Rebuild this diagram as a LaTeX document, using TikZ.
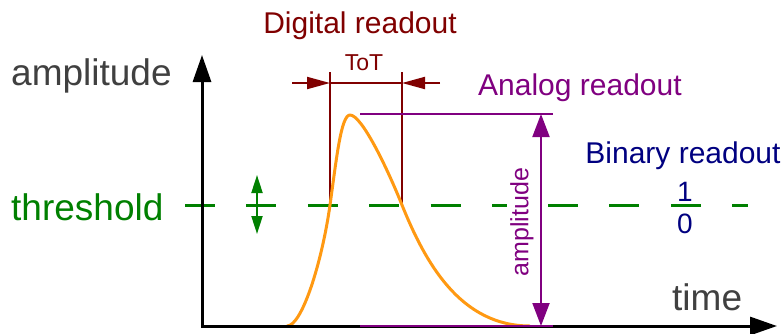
\documentclass[tikz,border=0pt]{standalone}
\usepackage{fontspec}
\setmainfont{Liberation Sans}
\usetikzlibrary{arrows.meta}
\definecolor{dred}{HTML}{800000}
\definecolor{purp}{HTML}{800080}
\definecolor{navy}{HTML}{000080}
\definecolor{grn}{HTML}{008000}
\definecolor{orng}{HTML}{FF9912}
\definecolor{lbl}{HTML}{404040}
\begin{document}
\begin{tikzpicture}[x=1pt,y=-1pt,
  axis/.style={line width=3pt,{Triangle[length=27pt,width=18pt]}-{Triangle[length=27pt,width=18pt]}},
  biglabel/.style={font=\fontsize{37}{40}\selectfont,text=lbl,inner sep=0pt},
  readout/.style={font=\fontsize{30}{32}\selectfont,inner sep=0pt},
  digit/.style={font=\fontsize{28}{30}\selectfont,inner sep=0pt,text=navy,anchor=base},
  thr/.style={grn,line width=3pt,dash pattern=on 30pt off 31.4pt},
  dmark/.style={dred,line width=2pt},
  dtip/.style={dred,line width=2pt,-{Triangle[length=23pt,width=12pt]}},
  amark/.style={purp,line width=2pt},
  pulse/.style={orng,line width=3pt,line join=round}]
\useasboundingbox (0,0) rectangle (783,333);

% axes
\coordinate (ytop) at (202,55);
\coordinate (orig) at (202,326);
\coordinate (xend) at (777,326);

% threshold level
\coordinate (th1a) at (185,205);
\coordinate (th1b) at (525,205);
\coordinate (th2a) at (548,205);
\coordinate (th2b) at (748,205);
\draw[thr] (th1a) -- (th1b);
\draw[thr] (th2a) -- (th2b);

% adjustable threshold
\coordinate (adjtop) at (257,175);
\coordinate (adjbot) at (257,234);
\draw[grn,line width=2pt,{Triangle[length=18pt,width=11pt]}-{Triangle[length=18pt,width=11pt]}] (adjtop) -- (adjbot);

% time over threshold
\coordinate (t1top) at (330,72);
\coordinate (t1bot) at (330,205);
\coordinate (t2top) at (402,72);
\coordinate (t2bot) at (402,205);
\coordinate (t1) at (330,83);
\coordinate (t2) at (402,83);
\coordinate (tl) at (292,83);
\coordinate (tr) at (440,83);
\draw[dmark] (t1top) -- (t1bot);
\draw[dmark] (t2top) -- (t2bot);
\draw[dmark] (t1) -- (t2);
\draw[dtip] (tl) -- (t1);
\draw[dtip] (tr) -- (t2);

% pulse: fast rise, slow exponential-like tail
\coordinate (p0) at (287,326);
\coordinate (pk) at (350,115);
\coordinate (pend) at (530,326);
\draw[pulse] (p0) .. controls (302,326) and (322,262) .. (t1bot)
  .. controls (336.4,159.4) and (341,115) .. (pk)
  .. controls (362,115) and (388,170) .. (t2bot)
  .. controls (425,262) and (460,326) .. (pend);

% amplitude measurement
\coordinate (al1) at (360,114);
\coordinate (ar1) at (553,114);
\coordinate (al2) at (360,326);
\coordinate (ar2) at (553,326);
\coordinate (atop) at (541,114);
\coordinate (abot) at (541,326);

\draw[axis] (ytop) -- (orig) -- (xend);

\draw[amark] (al1) -- (ar1);
\draw[amark] (al2) -- (ar2);
\node (amplv) [rotate=90,fill=white,text=purp,font=\fontsize{25}{27}\selectfont,inner sep=3pt] at (522,222) {amplitude};
\draw[amark,{Triangle[length=23pt,width=17pt]}-{Triangle[length=23pt,width=17pt]}] (atop) -- (abot);

% labels
\node (ylab) [biglabel,anchor=base west] at (11,85) {amplitude};
\node (xlab) [biglabel,anchor=base west] at (672,310) {time};
\node (thlab) [biglabel,text=grn,anchor=base west] at (11,220) {threshold};
\node (dig) [readout,text=dred,anchor=base] at (360,33) {Digital readout};
\node (tot) [font=\fontsize{23}{25}\selectfont,inner sep=0pt,text=dred,anchor=base] at (364,70) {ToT};
\node (ana) [readout,text=purp,anchor=base west] at (478,95) {Analog readout};
\node (bin) [readout,text=navy,anchor=base] at (683,163) {Binary readout};
\node (one) [digit] at (685,201) {1};
\node (zero) [digit] at (685,233) {0};
\end{tikzpicture}
\end{document}
